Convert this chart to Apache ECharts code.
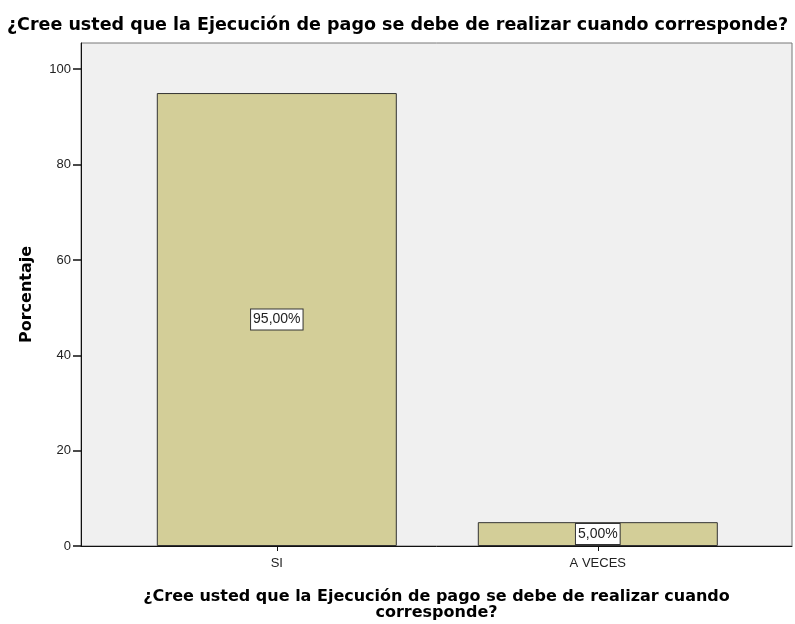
<!DOCTYPE html>
<html style="height: 100%">
<head>
<meta charset="UTF-8">
<title>Ejecución de pago</title>
</head>
<body style="height: 100%; margin: 0; background: #fff">
<div id="container" style="width: 795px; height: 624px"></div>
<script src="https://cdn.jsdelivr.net/npm/echarts@6/dist/echarts.min.js"></script>
<script>
var categories = ['SI', 'A VECES'];
var porcentajes = [95, 5];
var yTicks = [0, 20, 40, 60, 80, 100];
var titulo = '¿Cree usted que la Ejecución de pago se debe de realizar cuando corresponde?';
var tituloEje = '¿Cree usted que la Ejecución de pago se debe de realizar cuando\ncorresponde?';

var chart = echarts.init(document.getElementById('container'));

// posiciones de las categorias en el eje x (0, 1, ...)
var positions = categories.map(function (c, i) { return i; });

var option = {
    animation: false,
    title: {
        text: titulo,
        left: 'center',
        top: 11,
        textStyle: { fontFamily: 'DejaVu Sans', fontSize: 17.5, fontWeight: 'bold', color: '#000' }
    },
    grid: {
        left: 81, right: 3, top: 43, bottom: 78,
        outerBoundsMode: 'none',
        show: true,
        backgroundColor: '#f0f0f0',
        borderColor: '#777',
        borderWidth: 1
    },
    xAxis: {
        type: 'value',
        min: -0.61,
        max: 1.605,
        splitLine: { show: false },
        axisLine: { show: true, lineStyle: { color: '#111', width: 1 } },
        axisTick: { show: true, length: 5, lineStyle: { color: '#111' }, customValues: positions },
        axisLabel: {
            customValues: positions,
            margin: 11,
            fontFamily: 'Liberation Sans', fontSize: 13, color: '#222',
            formatter: function (v) { return categories[Math.round(v)]; }
        },
        name: tituloEje,
        nameLocation: 'middle',
        nameGap: 43,
        nameTextStyle: { fontFamily: 'DejaVu Sans', fontSize: 16, fontWeight: 'bold', color: '#000', lineHeight: 16 }
    },
    yAxis: {
        type: 'value',
        min: 0,
        max: 105.5,
        splitLine: { show: false },
        axisLine: { show: true, onZero: false, lineStyle: { color: '#111', width: 1 } },
        axisTick: { show: true, length: 8, lineStyle: { color: '#111', width: 1.5 }, customValues: yTicks },
        axisLabel: {
            customValues: yTicks,
            margin: 10,
            fontFamily: 'Liberation Sans', fontSize: 13, color: '#222'
        },
        name: 'Porcentaje',
        nameLocation: 'middle',
        nameGap: 46,
        nameTextStyle: { fontFamily: 'DejaVu Sans', fontSize: 16, fontWeight: 'bold', color: '#000' }
    },
    series: [{
        type: 'bar',
        barWidth: 240,
        data: porcentajes.map(function (v, i) { return [positions[i], v]; }),
        itemStyle: { color: '#d3ce98', borderColor: '#333', borderWidth: 1 },
        label: {
            show: true,
            position: 'inside',
            formatter: function (p) { return p.value[1].toFixed(2).replace('.', ',') + '%'; },
            fontFamily: 'Liberation Sans', fontSize: 14, color: '#222',
            lineHeight: 15,
            backgroundColor: '#fff',
            borderColor: '#333',
            borderWidth: 1,
            padding: [3, 2, 2, 2]
        }
    }]
};
chart.setOption(option);
</script>
</body>
</html>
